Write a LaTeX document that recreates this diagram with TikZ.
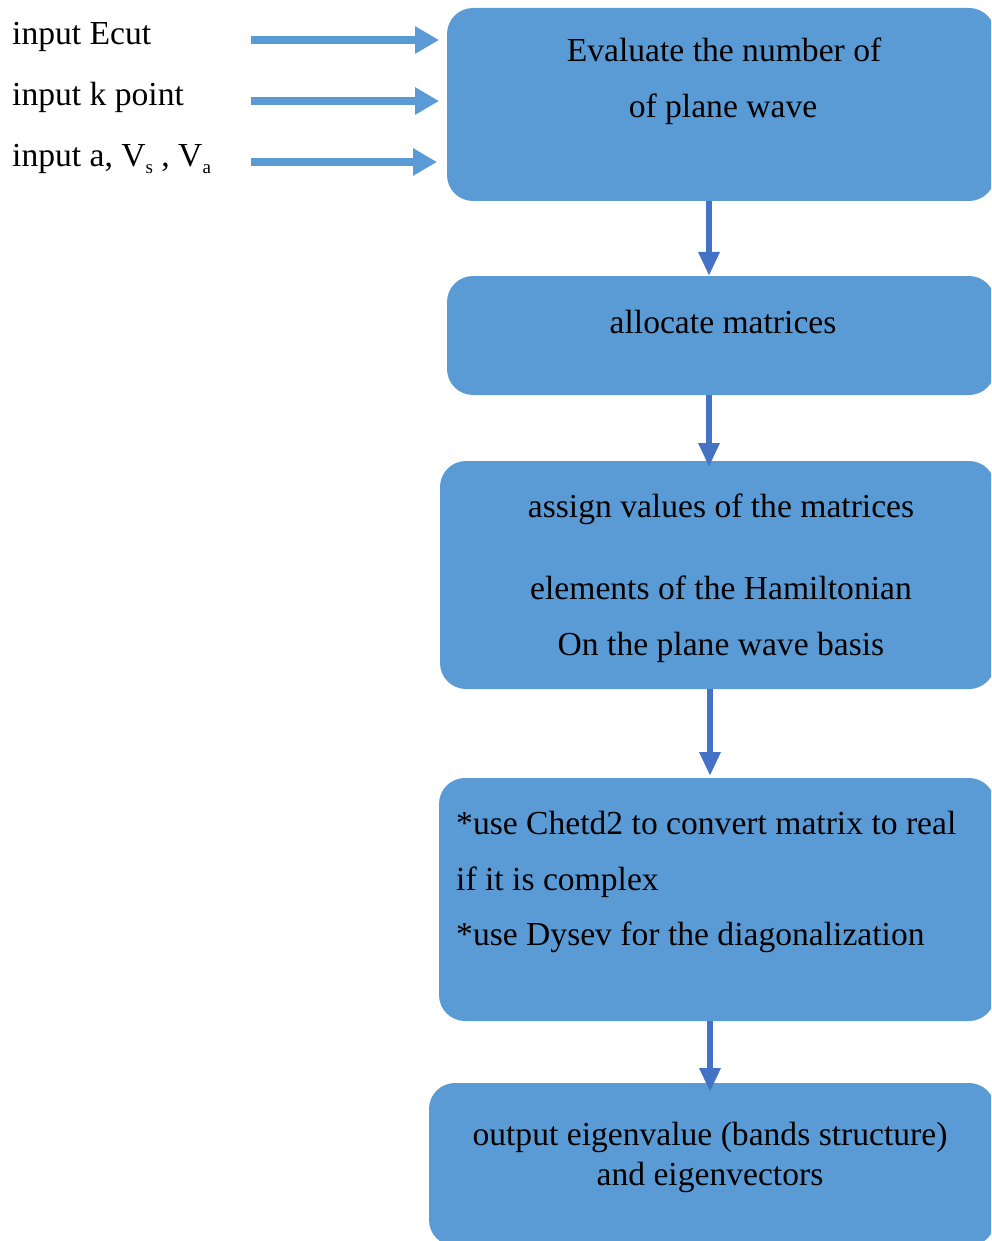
\documentclass[tikz,border=0pt]{standalone}
\usepackage{fontspec}
\setmainfont{Liberation Serif}
\usetikzlibrary{arrows.meta}
\definecolor{boxblue}{HTML}{5B9BD5}
\definecolor{arrblue}{HTML}{4472C4}
\newcommand{\subtx}[1]{\raisebox{-0.18em}{\fontsize{19}{19}\selectfont #1}}
\begin{document}
\begin{tikzpicture}[x=1pt,y=-1pt,
  flowbox/.style={draw=none,fill=boxblue,rounded corners=26pt,inner sep=0pt},
  txt/.style={font=\fontsize{33.6}{38}\selectfont,inner sep=0pt,anchor=base},
  ltxt/.style={txt,anchor=base west},
  inarrow/.style={draw=boxblue,line width=8pt,-{Triangle[length=24pt,width=26pt]}},
  downarrow/.style={draw=arrblue,line width=6pt,-{Triangle[length=24pt,width=20pt]}}]
\useasboundingbox (0,0) rectangle (991,1241);
\clip (0,0) rectangle (991,1241);
% boxes
\path[flowbox] (447,8) rectangle (995,201) node[pos=0.5] (b1) {};
\path[flowbox] (447,276) rectangle (995,395) node[pos=0.5] (b2) {};
\path[flowbox] (440,461) rectangle (995,689) node[pos=0.5] (b3) {};
\path[flowbox] (439,778) rectangle (995,1021) node[pos=0.5] (b4) {};
\path[flowbox] (429,1083) rectangle (995,1246) node[pos=0.5] (b5) {};
% named anchors for connectors
\coordinate (b1t) at (709,201);
\coordinate (b2t) at (709,276);
\coordinate (b2b) at (709,395);
\coordinate (b3t) at (709,467);
\coordinate (b3b) at (710,689);
\coordinate (b4t) at (710,776);
\coordinate (b4b) at (710,1021);
\coordinate (b5t) at (710,1092);
% input texts
\node[ltxt] (i1) at (12,45) {input Ecut};
\node[ltxt] (i2) at (12,106) {input k point};
\node[ltxt] (i3) at (12,167) {input a, V\subtx{s} , V\subtx{a}};
\coordinate (i1s) at (251,40);
\coordinate (i2s) at (251,101);
\coordinate (i3s) at (251,162);
\coordinate (i1e) at (439,40);
\coordinate (i2e) at (439,101);
\coordinate (i3e) at (437,162);
\draw[inarrow] (i1s) -- (i1e);
\draw[inarrow] (i2s) -- (i2e);
\draw[inarrow] (i3s) -- (i3e);
% box texts
\node[txt] (t11) at (724,62) {Evaluate the number of};
\node[txt] (t12) at (723,118) {of plane wave};
\node[txt] (t21) at (723,333) {allocate matrices};
\node[txt] (t31) at (721,517) {assign values of the matrices};
\node[txt] (t32) at (721,599) {elements of the Hamiltonian};
\node[txt] (t33) at (721,655) {On the plane wave basis};
\node[ltxt] (t41) at (456,834) {*use Chetd2 to convert matrix to real};
\node[ltxt] (t42) at (456,890) {if it is complex};
\node[ltxt] (t43) at (456,945) {*use Dysev for the diagonalization};
\node[txt] (t51) at (710,1145) {output eigenvalue (bands structure)};
\node[txt] (t52) at (710,1185) {and eigenvectors};
% down arrows
\draw[downarrow] (b1t) -- (b2t);
\draw[downarrow] (b2b) -- (b3t);
\draw[downarrow] (b3b) -- (b4t);
\draw[downarrow] (b4b) -- (b5t);
\end{tikzpicture}
\end{document}
